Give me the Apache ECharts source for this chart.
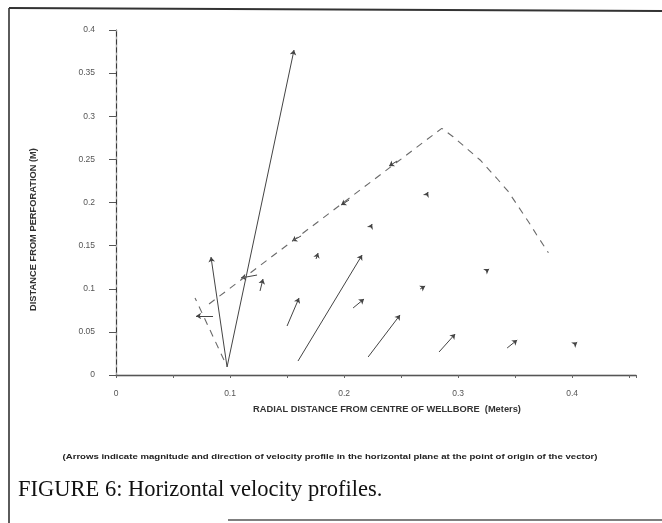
<!DOCTYPE html>
<html>
<head>
<meta charset="utf-8">
<script src="https://cdn.jsdelivr.net/npm/echarts@6/dist/echarts.min.js"></script>
<style>
html,body{margin:0;padding:0;background:#fff;}
#chart{width:662px;height:523px;}
</style>
</head>
<body>
<div id="chart"></div>
<script>
// Tick labels
const xTickLabels = ['0', '0.1', '0.2', '0.3', '0.4'];
const yTickLabels = ['0', '0.05', '0.1', '0.15', '0.2', '0.25', '0.3', '0.35', '0.4'];

// Velocity vectors: origin (x0,y0) -> tip (x1,y1), metres
const vectorOriginX = [0.0974, 0.0974, 0.1500, 0.1596, 0.2211, 0.2833, 0.2079, 0.1263, 0.1754, 0.2237, 0.2728, 0.2667, 0.3246, 0.3430, 0.4035, 0.1237, 0.0851, 0.1623, 0.2044, 0.2465];
const vectorOriginY = [0.0093, 0.0093, 0.0568, 0.0162, 0.0209, 0.0267, 0.0777, 0.0974, 0.1345, 0.1727, 0.2099, 0.0997, 0.1206, 0.0313, 0.0371, 0.1159, 0.0684, 0.1612, 0.2029, 0.2481];
const vectorTipX    = [0.0833, 0.1561, 0.1605, 0.2158, 0.2491, 0.2974, 0.2175, 0.1289, 0.1772, 0.2246, 0.2737, 0.2711, 0.3272, 0.3518, 0.4044, 0.1096, 0.0702, 0.1544, 0.1974, 0.2395];
const vectorTipY    = [0.1368, 0.3768, 0.0893, 0.1391, 0.0696, 0.0475, 0.0881, 0.1113, 0.1414, 0.1751, 0.2122, 0.1032, 0.1229, 0.0406, 0.0380, 0.1125, 0.0684, 0.1554, 0.1971, 0.2423];

// Dashed boundary lines
const boundaryUpperX = [0.0816, 0.2857, 0.2956, 0.3193, 0.3339, 0.3441, 0.3529, 0.3617, 0.3690, 0.3792];
const boundaryUpperY = [0.0823, 0.2860, 0.2763, 0.2493, 0.2281, 0.2125, 0.1951, 0.1777, 0.1623, 0.1418];
const boundaryLowerX = [0.0947, 0.0693];
const boundaryLowerY = [0.0174, 0.0893];

const vectorData = vectorOriginX.map((x0, i) => ({
  coords: [[x0, vectorOriginY[i]], [vectorTipX[i], vectorTipY[i]]]
}));
const upperData = boundaryUpperX.map((x, i) => [x, boundaryUpperY[i]]);
const lowerData = boundaryLowerX.map((x, i) => [x, boundaryLowerY[i]]);

const axisColor = '#3a3a3a';
const labelColor = '#555';
const font = 'Liberation Sans, Arial, sans-serif';

const chart = echarts.init(document.getElementById('chart'), null, {renderer: 'canvas'});
chart.setOption({
  backgroundColor: '#fff',
  animation: false,
  grid: {left: 116, right: 26, top: 30, bottom: 148, containLabel: false},
  xAxis: [{
    type: 'value', min: 0, max: 0.456, interval: 0.05,
    splitLine: {show: false},
    axisLine: {lineStyle: {color: axisColor, width: 1.4}},
    axisTick: {show: true, length: 3, lineStyle: {color: '#666', width: 1}},
    axisLabel: {
      color: labelColor, fontSize: 8.5, fontFamily: font, margin: 14,
      formatter: function (v) {
        const k = Math.round(v * 20);
        if (Math.abs(v * 20 - k) > 1e-6) return '';
        if (k % 2 !== 0) return '';
        return xTickLabels[k / 2] || '';
      }
    },
    name: 'RADIAL DISTANCE FROM CENTRE OF WELLBORE  (Meters)',
    nameLocation: 'middle', nameGap: 30,
    nameTextStyle: {fontSize: 9.3, fontWeight: 'bold', color: '#333', fontFamily: font, padding: [0, 0, 0, 22]}
  }, {
    type: 'value', min: 0, max: 0.456, position: 'top',
    splitLine: {show: false},
    axisLine: {show: true, lineStyle: {color: '#555', width: 1.2}},
    axisTick: {show: false}, axisLabel: {show: false}
  }],
  yAxis: [{
    type: 'value', min: 0, max: 0.4, interval: 0.05,
    splitLine: {show: false},
    axisLine: {lineStyle: {color: axisColor, width: 1.2}},
    axisTick: {show: true, length: 7, lineStyle: {color: '#555', width: 1}},
    axisLabel: {
      color: labelColor, fontSize: 8.5, fontFamily: font, margin: 21,
      formatter: function (v) {
        const k = Math.round(v * 20);
        return yTickLabels[k] || '';
      }
    },
    name: 'DISTANCE FROM PERFORATION (M)',
    nameLocation: 'middle', nameGap: 78,
    nameTextStyle: {fontSize: 9.3, fontWeight: 'bold', color: '#333', fontFamily: font, padding: [0, 54, 0, 0]}
  }, {
    type: 'value', min: 0, max: 0.4, position: 'right',
    splitLine: {show: false},
    axisLine: {show: true, lineStyle: {color: '#aaa', width: 1, type: [2, 6]}},
    axisTick: {show: false}, axisLabel: {show: false}
  }],
  series: [{
    type: 'line', name: 'upper boundary', data: upperData,
    symbol: 'none', smooth: false,
    lineStyle: {color: '#6a6a6a', width: 1.1, type: [7, 6]}
  }, {
    type: 'line', name: 'lower boundary', data: lowerData,
    symbol: 'none',
    lineStyle: {color: '#6a6a6a', width: 1.1, type: [7, 6]}
  }, {
    type: 'lines', name: 'velocity vectors', coordinateSystem: 'cartesian2d',
    data: vectorData,
    symbol: ['none', 'arrow'], symbolSize: 5,
    lineStyle: {color: '#444', width: 1, opacity: 1, curveness: 0}
  }],
  graphic: [
    {type: 'line', shape: {x1: 9, y1: 8, x2: 662, y2: 11}, style: {stroke: '#333', lineWidth: 2}},
    {type: 'line', shape: {x1: 9, y1: 8, x2: 9, y2: 523}, style: {stroke: '#333', lineWidth: 1.6}},
    {type: 'line', shape: {x1: 228, y1: 520, x2: 662, y2: 520}, style: {stroke: '#555', lineWidth: 1.6}},
    {type: 'text', x: 330, y: 457, scaleX: 1.2, style: {
      text: '(Arrows indicate magnitude and direction of velocity profile in the horizontal plane at the point of origin of the vector)',
      fontSize: 8, fontWeight: 'bold', fill: '#222', fontFamily: font, align: 'center', verticalAlign: 'middle'}},
    {type: 'text', x: 18, y: 490, style: {
      text: 'FIGURE 6: Horizontal velocity profiles.',
      fontSize: 22.5, fill: '#111', fontFamily: 'Liberation Serif, Times New Roman, serif', verticalAlign: 'middle'}}
  ]
});
</script>
</body>
</html>
